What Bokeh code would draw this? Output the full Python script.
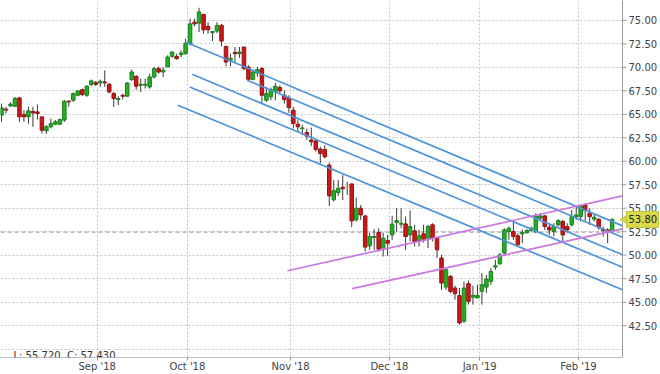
import math
from bokeh.plotting import figure
from bokeh.models import FixedTicker, Label, ColumnDataSource, BoxAnnotation
from bokeh.core.properties import value
from bokeh.embed import file_html
from bokeh.resources import INLINE

# ---- data ----
opens = [64.91, 65.55, 65.90, 65.86, 66.75, 64.98, 64.73, 65.30, 65.26, 64.73,
         63.25, 63.67, 63.95, 63.95, 64.38, 66.40, 66.50, 67.03, 67.63, 67.03,
         68.17, 68.38, 68.35, 68.45, 68.20, 67.21, 66.57, 67.03, 66.93, 68.70,
         69.05, 68.10, 68.10, 67.92, 68.98, 69.87, 69.51, 70.04, 71.17, 71.17,
         71.35, 71.46, 72.52, 74.82, 74.71, 75.64, 74.36, 73.71, 73.87, 74.47,
         72.24, 70.75, 71.60, 71.46, 72.17, 70.04, 68.73, 69.40, 69.87, 66.50,
         66.86, 67.39, 67.85, 67.03, 66.68, 65.44, 63.95, 63.49, 63.07, 62.26,
         62.15, 61.30, 61.26, 59.60, 55.90, 56.67, 57.23, 57.30, 57.58, 53.76,
         55.00, 54.18, 51.00, 51.88, 52.41, 50.75, 51.56, 52.16, 53.48, 53.30,
         53.33, 52.16, 52.59, 51.56, 52.27, 51.81, 53.23, 51.81, 49.69, 46.60,
         47.74, 46.50, 45.69, 42.96, 46.96, 45.51, 45.44, 46.15, 46.60, 47.20,
         48.73, 49.08, 50.22, 52.52, 52.52, 52.06, 52.27, 52.41, 52.62, 52.52,
         53.93, 54.18, 52.98, 52.52, 53.23, 53.58, 53.05, 53.23, 54.11, 54.11,
         55.35, 54.47, 53.83, 53.83, 52.77, 52.69, 52.52]
highs = [66.15, 65.80, 66.30, 66.85, 66.85, 65.44, 65.80, 65.80, 66.04, 64.73,
         63.85, 64.55, 64.40, 64.55, 66.50, 66.50, 67.32, 67.56, 67.74, 68.10,
         68.70, 68.56, 68.70, 69.69, 68.34, 67.39, 66.93, 67.21, 68.45, 69.76,
         69.16, 68.80, 68.80, 69.33, 70.04, 70.11, 70.04, 71.28, 71.74, 71.46,
         71.81, 73.05, 75.18, 75.18, 76.35, 75.70, 74.82, 73.82, 74.82, 74.64,
         72.24, 71.46, 72.17, 72.17, 72.17, 70.22, 69.69, 70.04, 70.04, 67.92,
         67.85, 68.34, 68.10, 67.56, 67.03, 65.80, 64.38, 63.85, 63.49, 63.60,
         62.43, 61.55, 61.72, 59.85, 58.00, 58.00, 58.54, 57.83, 57.65, 56.13,
         55.35, 54.29, 52.40, 52.77, 52.87, 52.41, 52.17, 54.20, 55.00, 55.00,
         54.11, 54.75, 53.23, 52.70, 53.23, 53.23, 53.40, 51.81, 50.04, 48.60,
         47.90, 46.75, 46.50, 47.20, 47.30, 46.75, 46.85, 48.09, 47.90, 48.62,
         49.50, 50.22, 52.87, 53.05, 53.58, 52.34, 52.70, 52.77, 53.05, 54.47,
         54.47, 54.29, 53.40, 53.40, 53.83, 53.76, 53.40, 54.82, 55.17, 55.35,
         55.53, 55.00, 54.29, 53.93, 53.05, 52.87, 53.93]
lows = [64.20, 65.10, 65.80, 65.80, 64.20, 64.20, 64.00, 63.67, 64.45, 62.96,
        62.90, 63.50, 63.85, 63.85, 64.20, 65.80, 66.33, 66.93, 66.93, 66.86,
        68.00, 68.00, 67.92, 67.92, 67.21, 65.79, 65.97, 66.57, 66.86, 68.56,
        67.63, 67.39, 67.74, 67.74, 68.80, 69.33, 68.98, 70.04, 71.03, 70.82,
        71.10, 71.35, 72.34, 74.36, 73.76, 73.58, 73.58, 72.80, 73.65, 72.24,
        70.11, 70.11, 70.57, 71.03, 69.69, 68.62, 68.62, 69.00, 66.15, 66.33,
        66.50, 66.50, 67.20, 66.15, 65.16, 63.49, 63.14, 62.79, 62.26, 61.62,
        61.02, 59.78, 60.31, 55.24, 55.70, 56.31, 55.88, 56.41, 52.98, 53.58,
        53.76, 50.40, 50.57, 50.57, 50.40, 49.86, 49.93, 51.63, 52.52, 52.87,
        50.57, 51.46, 50.92, 50.92, 51.35, 50.75, 51.46, 49.70, 46.32, 46.30,
        45.97, 45.26, 42.60, 42.78, 44.73, 44.73, 45.44, 44.73, 45.97, 46.85,
        48.45, 48.98, 50.04, 51.63, 51.63, 50.92, 51.28, 52.27, 52.52, 52.34,
        53.76, 52.69, 52.16, 51.99, 53.05, 51.46, 52.34, 53.05, 53.76, 53.58,
        53.58, 53.23, 53.58, 52.69, 51.99, 51.28, 52.41]
closes = [65.69, 65.45, 66.08, 66.68, 64.73, 64.73, 65.37, 65.15, 65.09, 63.30,
          63.67, 64.02, 64.20, 64.45, 66.40, 66.33, 67.21, 67.50, 67.10, 67.99,
          68.56, 68.20, 68.52, 68.35, 67.39, 66.68, 66.68, 66.93, 68.34, 69.51,
          67.99, 68.20, 68.20, 68.98, 69.87, 69.51, 69.69, 71.10, 71.63, 70.93,
          71.53, 72.59, 74.64, 74.64, 75.90, 74.00, 74.00, 73.82, 74.47, 72.80,
          70.57, 70.96, 71.46, 71.63, 69.87, 68.73, 69.51, 69.75, 67.03, 67.21,
          67.63, 67.99, 67.50, 66.57, 65.72, 64.02, 63.67, 63.55, 62.68, 62.08,
          61.26, 60.84, 60.48, 56.31, 56.87, 57.12, 57.08, 57.30, 53.65, 55.00,
          54.29, 50.86, 51.99, 51.99, 50.64, 51.81, 51.28, 53.30, 53.69, 53.40,
          51.99, 53.05, 51.46, 52.06, 51.70, 53.05, 51.81, 50.57, 47.03, 48.45,
          46.14, 45.90, 42.78, 46.50, 45.08, 45.72, 45.72, 46.85, 47.46, 48.27,
          48.87, 50.04, 52.69, 52.87, 51.99, 51.10, 52.41, 52.62, 52.87, 54.11,
          54.18, 53.05, 52.69, 53.05, 53.69, 52.16, 52.69, 54.11, 54.29, 55.24,
          54.75, 54.11, 54.04, 52.98, 52.62, 52.55, 53.80]

month_pos = [21.3, 41.4, 64.4, 86.4, 106.5, 128.5]
month_labels = ["Sep '18", "Oct '18", "Nov '18", "Dec '18", "Jan '19", "Feb '19"]
price_ticks = [42.5, 45.0, 47.5, 50.0, 52.5, 55.0, 57.5, 60.0, 62.5, 65.0, 67.5, 70.0, 72.5, 75.0]
grid_ticks = [40.0] + price_ticks

# drawn trend lines (start / end in bar index, price)
blue_x0 = [40.98, 54.72, 42.47, 41.94, 39.27]
blue_y0 = [72.70, 68.63, 69.26, 67.92, 65.97]
blue_x1 = [138.31, 138.31, 138.31, 138.31, 138.31]
blue_y1 = [53.12, 51.90, 50.04, 48.71, 46.32]
purple_x0 = [63.7, 78.1]
purple_y0 = [48.34, 46.43]
purple_x1 = [138.31, 138.31]
purple_y1 = [56.31, 52.80]

prev_close = 52.45
last_price = 53.80
ohlc_text = "L: 55.720\u00a0\u00a0C: 57.430"

# ---- geometry (bar index <-> pixel) ----
PXB = 4.49            # pixels per bar
def kx(px):
    return (px - 1) / PXB
X0, X1 = kx(0), kx(660)
AX = kx(622)          # price-axis line
Y0, Y1 = 39.10, 77.124

# ---- build ----
idx = list(range(len(opens)))
tops = [max(o, c) for o, c in zip(opens, closes)]
bots = [min(o, c) for o, c in zip(opens, closes)]
fills, edges = [], []
for o, c in zip(opens, closes):
    if c > o:
        fills.append("#25ad25"); edges.append("#1a821a")
    elif c < o:
        fills.append("#cc1818"); edges.append("#9a1010")
    else:
        fills.append("#e6d84a"); edges.append("#c8b830")
src = ColumnDataSource(dict(x=idx, o=opens, h=highs, l=lows, c=closes,
                            top=tops, bot=bots, fill=fills, edge=edges))

FONT = "DejaVu Sans"
p = figure(width=660, height=374, x_range=(X0, X1), y_range=(Y0, Y1),
           output_backend="svg", toolbar_location=None,
           min_border_left=0, min_border_top=0, min_border_right=0, min_border_bottom=16)
p.outline_line_color = None
p.background_fill_color = "white"
p.border_fill_color = "white"
p.yaxis.visible = False

# grid
p.xgrid.ticker = FixedTicker(ticks=month_pos)
p.ygrid.ticker = FixedTicker(ticks=grid_ticks)
for g in (p.xgrid, p.ygrid):
    g.grid_line_color = "#c4c4c4"
    g.grid_line_dash = "2 2"
    g.grid_line_width = 1
# blank strip right of the price axis (covers grid there)
p.add_layout(BoxAnnotation(left=AX, level="underlay", fill_color="white", fill_alpha=1.0,
                           line_color=None))

# x axis
xa = p.xaxis[0]
xa.ticker = FixedTicker(ticks=month_pos)
ov = {}
for pos, lab in zip(month_pos, month_labels):
    ov[pos] = lab
    ov[str(pos)] = lab
xa.major_label_overrides = ov
xa.bounds = (X0, AX)
xa.major_label_text_font = FONT
xa.major_label_text_font_size = "10px"
xa.major_label_text_color = "#444444"
xa.axis_line_color = "#c0c0c0"
xa.major_tick_line_color = "#9a9a9a"
xa.major_tick_out = 3
xa.major_tick_in = 0
xa.minor_tick_line_color = None
xa.major_label_standoff = 0

# previous-close dashed line
p.segment(x0=[X0], y0=[prev_close], x1=[AX], y1=[prev_close], line_color="#9a9a9a",
          line_dash="4 3", line_width=1)

# candles
p.segment(x0="x", y0="h", x1="x", y1="l", source=src, line_color="#3a3a3a", line_width=1)
p.vbar(x="x", width=0.78, top="top", bottom="bot", source=src,
       fill_color="fill", line_color="edge", line_width=1)

# trend lines
p.segment(x0=blue_x0, y0=blue_y0, x1=blue_x1, y1=blue_y1, line_color="#4d94dc", line_width=1.7)
p.segment(x0=purple_x0, y0=purple_y0, x1=purple_x1, y1=purple_y1, line_color="#cc77e0", line_width=1.7)

# price axis (right)
p.segment(x0=[AX], y0=[Y0], x1=[AX], y1=[Y1], line_color="#9a9a9a", line_width=1)
p.segment(x0=[AX] * len(price_ticks), y0=price_ticks, x1=[kx(626)] * len(price_ticks),
          y1=price_ticks, line_color="#9a9a9a", line_width=1)
p.text(x=[kx(628)] * len(price_ticks), y=price_ticks, text=["%.2f" % t for t in price_ticks],
       text_font=value(FONT), text_font_size="10px", text_color="#444444",
       text_baseline="middle", text_align="left")

# last-price tag
p.rect(x=[kx(642)], y=[last_price], width=32, height=16, width_units="screen",
       height_units="screen", fill_color="#d8da4c", line_color="#c4c63a")
p.scatter(x=[kx(623.5)], y=[last_price], marker="triangle", size=7, angle=math.pi / 2,
          fill_color="#d8da4c", line_color="#c4c63a")
p.text(x=[kx(628)], y=[last_price], text=["%.2f" % last_price], text_font=value(FONT),
       text_font_size="10px", text_color="#222222", text_baseline="middle", text_align="left")

# OHLC readout
p.add_layout(Label(x=kx(13), y=39.31, text=ohlc_text, text_font=FONT, text_font_size="10px",
                   text_color="#333333", text_baseline="alphabetic", text_align="left"))

open("out.html", "w").write(file_html(p, INLINE))
